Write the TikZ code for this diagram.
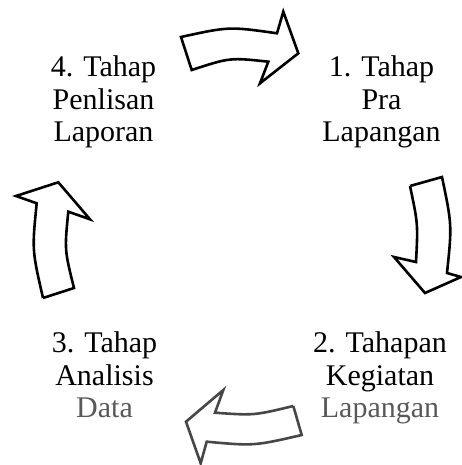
\documentclass[tikz,border=0pt]{standalone}
\usepackage{fontspec}
\setmainfont{Liberation Serif}
\begin{document}
\begin{tikzpicture}[x=1pt,y=-1pt,
  label/.style={align=center,inner sep=0pt,anchor=base,
    font=\fontsize{30}{32.5}\selectfont},
  flow/.style={draw=black,line width=2.6pt,line join=miter,fill=white},
  flowfaded/.style={flow,draw=black!72}]
\useasboundingbox (0,0) rectangle (462,465);

% stage labels (anchored at the baseline of their last line)
\node[label] (s1) at (381.5,142) {1. Tahap\\Pra\\Lapangan};
\node[label] (s2) at (380,417.5) {2. Tahapan\\Kegiatan\\\textcolor{black!65}{Lapangan}};
\node[label] (s3) at (104.5,417.5) {3. Tahap\\Analisis\\\textcolor{black!65}{Data}};
\node[label] (s4) at (103.5,142) {4. Tahap\\Penlisan\\Laporan};

% block arrow: stage 4 -> stage 1
\draw[flow] (181,37) .. controls (229,26.5) .. (277,33.3)
  -- (283.3,11.7) -- (298.3,53.3) -- (260,83.3) -- (268.3,61.7)
  .. controls (230,57.5) .. (191.7,70) -- cycle;

% block arrow: stage 1 -> stage 2
\draw[flow] (410,186) -- (442,177)
  .. controls (452,225) .. (447,273) -- (461,277) -- (425,293)
  -- (394,257) -- (416,262) .. controls (418,224) .. (410,186);

% block arrow: stage 2 -> stage 3
\draw[flowfaded] (293.3,406) -- (301.7,435)
  .. controls (254,446) .. (206.7,441.7) -- (200.7,463.3) -- (186,421.7)
  -- (223.3,390) -- (215,412.7) .. controls (254,415.5) .. (293.3,406);

% block arrow: stage 3 -> stage 4
\draw[flow] (43,298) -- (74,288)
  .. controls (64.5,250) .. (68.3,211.7) -- (90,219.3) -- (58.3,182.3)
  -- (16,196) -- (36.7,203.3) .. controls (32,250) .. (43,298);
\end{tikzpicture}
\end{document}
